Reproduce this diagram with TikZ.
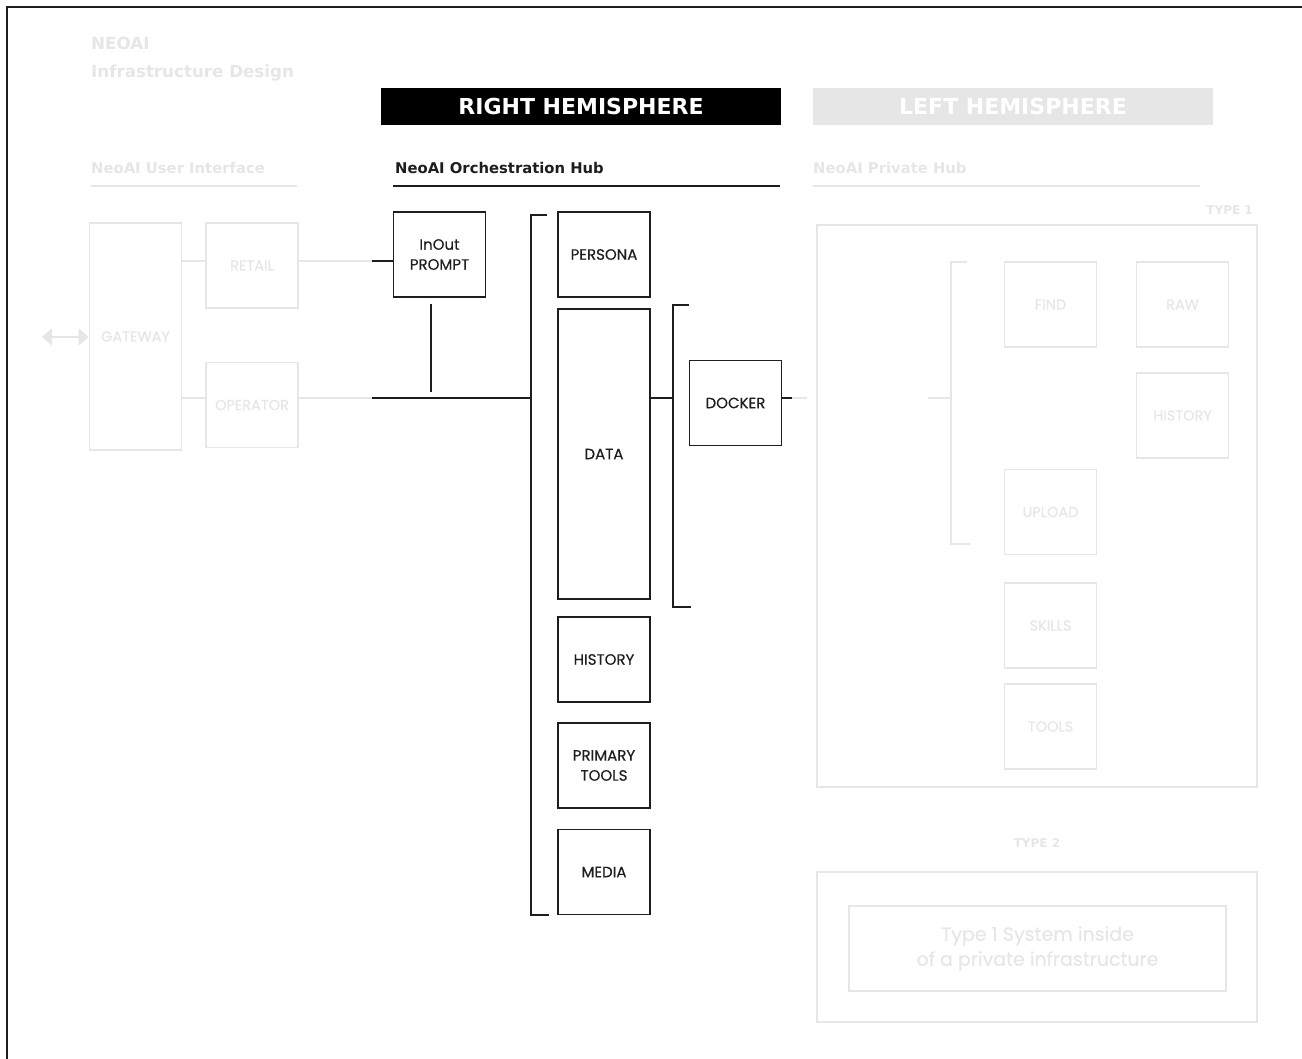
\documentclass[tikz,border=0pt]{standalone}
\usepackage{fontspec}
\setmainfont{Poppins}[FakeBold=0.4]
\newfontfamily\headfont{DejaVu Sans}
\usetikzlibrary{arrows.meta}
\definecolor{faint}{HTML}{E6E6E6}
\definecolor{ink}{HTML}{1E1E1E}

\begin{document}
\begin{tikzpicture}[x=1pt,y=-1pt,
  hubbox/.style={draw=ink,line width=1.4pt,inner sep=0pt,minimum width=92pt,minimum height=85pt,
    text=ink,align=center,font=\fontsize{15}{20}\selectfont},
  privbox/.style={hubbox,draw=faint,text=faint,line width=1.6pt,font=\fontsize{14.5}{20}\selectfont},
  hubline/.style={draw=ink,line width=1.4pt},
  privline/.style={draw=faint,line width=1.6pt},
  head/.style={inner sep=0pt,anchor=base west,font=\headfont\bfseries\fontsize{14.8}{18}\selectfont},
  bar/.style={inner sep=0pt,minimum width=400pt,minimum height=37pt,text=white,
    text height=16pt,text depth=0pt,font=\headfont\bfseries\fontsize{22}{24}\selectfont}]
  \useasboundingbox (0,0) rectangle (1302,1059);
  % frame
  \draw[ink,line width=1.8pt] (7,1059) -- (7,7) -- (1302,7);

  % titles and headings
  \node[head,text=faint,font=\headfont\bfseries\fontsize{16.7}{22}\selectfont] (title) at (91,50) {NEOAI};
  \node[head,text=faint,font=\headfont\bfseries\fontsize{16.7}{22}\selectfont] (subtitle) at (91,78) {Infrastructure Design};
  \node[bar,fill=black] (rightbar) at (581,106.5) {RIGHT HEMISPHERE};
  \node[bar,fill=faint] (leftbar) at (1013,106.5) {LEFT HEMISPHERE};
  \node[head,text=faint] (uihead) at (91,174) {NeoAI User Interface};
  \node[head,text=ink] (hubhead) at (395,174) {NeoAI Orchestration Hub};
  \node[head,text=faint] (privhead) at (813,174) {NeoAI Private Hub};
  \draw[privline] (91,186) -- (297,186);
  \draw[hubline] (393,186) -- (780,186);
  \draw[privline] (813,186) -- (1200,186);

  % user interface
  \node[privbox,minimum height=227pt] (gateway) at (135.5,336.5) {GATEWAY};
  \node[privbox] (retail) at (252,265.5) {RETAIL};
  \node[privbox] (operator) at (252,405) {OPERATOR};
  \coordinate (uplink) at (42,337);
  \coordinate (row1) at (0,261);
  \coordinate (row2) at (0,398);
  \coordinate (inl) at (372,261);
  \coordinate (busl) at (372,398);
  \coordinate (bus) at (531,398);
  \draw[privline,{Triangle[length=10pt,width=17pt]}-{Triangle[length=10pt,width=17pt]}] (uplink) -- (gateway.west |- uplink);
  \draw[privline] (gateway.east |- row1) -- (retail.west |- row1);
  \draw[privline] (gateway.east |- row2) -- (operator.west |- row2);
  \draw[privline] (retail.east |- row1) -- (inl);
  \draw[privline] (operator.east |- row2) -- (busl);

  % orchestration hub
  \node[hubbox] (inout) at (439.5,254.5) {InOut\\PROMPT};
  \node[hubbox] (persona) at (604,254.5) {PERSONA};
  \node[hubbox,minimum height=290pt] (data) at (604,454) {DATA};
  \node[hubbox] (history) at (604,659.5) {HISTORY};
  \node[hubbox] (primary) at (604,765.5) {PRIMARY\\TOOLS};
  \node[hubbox] (media) at (604,872) {MEDIA};
  \node[hubbox] (docker) at (735.5,403) {DOCKER};
  \draw[hubline] (inl) -- (inout.west |- row1);
  \draw[hubline] (busl) -- (bus);
  \draw[hubline] (431,304) -- (431,392);
  \draw[hubline] (547,215) -- (531,215) -- (531,915) -- (549,915);
  \draw[hubline] (data.east |- row2) -- (673,398);
  \draw[hubline] (689,305) -- (673,305) -- (673,607) -- (691,607);
  \draw[hubline] (docker.east |- row2) -- (792,398);
  \draw[privline] (792,398) -- (807,398);

  % private hub
  \node[head,anchor=base east,text=faint,font=\headfont\bfseries\fontsize{12}{16}\selectfont] (type1) at (1253,215) {TYPE 1};
  \draw[privline] (817,225) rectangle (1257,787);
  \node[privbox] (find) at (1050.5,304.5) {FIND};
  \node[privbox] (raw) at (1182.5,304.5) {RAW};
  \node[privbox] (phistory) at (1182.5,415.5) {HISTORY};
  \node[privbox] (upload) at (1050.5,512) {UPLOAD};
  \node[privbox] (skills) at (1050.5,625.5) {SKILLS};
  \node[privbox] (tools) at (1050.5,726.5) {TOOLS};
  \draw[privline] (928,398) -- (951,398);
  \draw[privline] (967,262) -- (951,262) -- (951,544) -- (970,544);
  \node[head,anchor=base,text=faint,font=\headfont\bfseries\fontsize{12}{16}\selectfont] (type2) at (1037,847) {TYPE 2};
  \draw[privline] (817,872) rectangle (1257,1022);
  \node[privbox,minimum width=377pt,minimum height=85pt,font=\fontsize{19}{25}\selectfont] (inner) at (1037.5,948.5)
    {Type 1 System inside\\of a private infrastructure};
\end{tikzpicture}
\end{document}
